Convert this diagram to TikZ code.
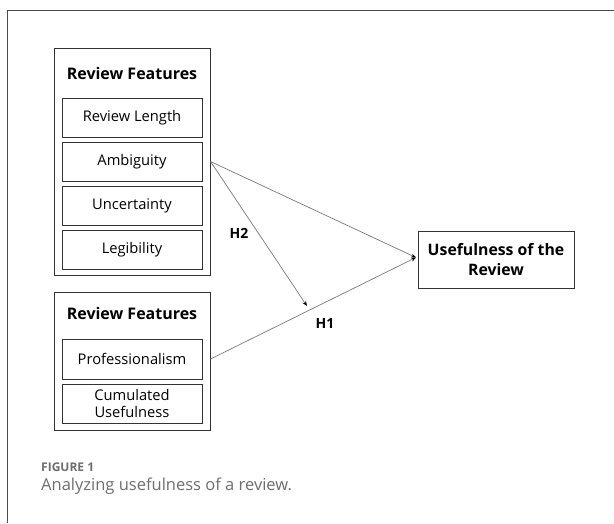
\documentclass[tikz,border=0pt]{standalone}
\usepackage{fontspec}
\setmainfont{Open Sans}
\usetikzlibrary{arrows.meta}
\definecolor{capgray}{HTML}{6E6E6E}
\definecolor{linegray}{HTML}{7A7A7A}
\begin{document}
\begin{tikzpicture}[x=1pt,y=-1pt,
  outerbox/.style={draw=black!80,line width=1pt},
  itembox/.style={draw=black!80,line width=1pt,minimum width=140pt,minimum height=39pt,inner sep=0pt,font=\fontsize{14.7}{17.5}\selectfont,align=center},
  ttl/.style={font=\bfseries\fontsize{16}{18}\selectfont},
  conn/.style={draw=linegray,line width=0.7pt},
  tip/.style={-{Stealth[length=5pt,width=4pt,color=black]}},
  hyp/.style={font=\bfseries\fontsize{14}{15}\selectfont}]
\useasboundingbox (0,0) rectangle (614,523);
\fill[white] (0,0) rectangle (614,523);
% outer frame
\draw[black!70,line width=1pt] (7,523) -- (7,10) -- (614,10);
% group 1
\node[outerbox,minimum width=156pt,minimum height=227pt,inner sep=0pt] (g1) at (132,161.5) {};
\node[ttl] (t1) at (132,73) {Review Features};
\node[itembox] (rl) at (132,117.5) {Review Length};
\node[itembox] (amb) at (132,161.5) {Ambiguity};
\node[itembox] (unc) at (132,205.5) {Uncertainty};
\node[itembox] (leg) at (132,249.5) {Legibility};
% group 2
\node[outerbox,minimum width=156pt,minimum height=138pt,inner sep=0pt] (g2) at (132,361) {};
\node[ttl] (t2) at (132,313) {Review Features};
\node[itembox,minimum height=40pt] (prof) at (132,359) {Professionalism};
\node[itembox] (cum) at (132,403.5) {Cumulated\\Usefulness};
% target
\node[outerbox,minimum width=156pt,minimum height=57pt,inner sep=0pt,align=center,font=\bfseries\fontsize{15.8}{20}\selectfont] (use) at (496,259.5) {Usefulness of the\\Review};
% connectors
\coordinate (a) at (g1.east |- amb.east);
\coordinate (p) at (g2.east |- prof.east);
\coordinate (tgt) at (416,257.5);
\coordinate (mid) at (307,306);
\draw[conn,tip] (a) -- (mid);
\draw[conn,tip] (p) -- (tgt);
\draw[conn,tip] (a) -- (tgt);
\node[hyp] (h2) at (239,233) {H2};
\node[hyp] (h1) at (325,323) {H1};
% caption
\node[anchor=west,text=capgray,font=\bfseries\fontsize{12}{13}\selectfont,inner sep=0pt] (fig) at (41,467.5) {FIGURE 1};
\node[anchor=west,text=capgray,font=\fontsize{16.5}{18}\selectfont,inner sep=0pt] (cap) at (41,486) {Analyzing usefulness of a review.};
\end{tikzpicture}
\end{document}
